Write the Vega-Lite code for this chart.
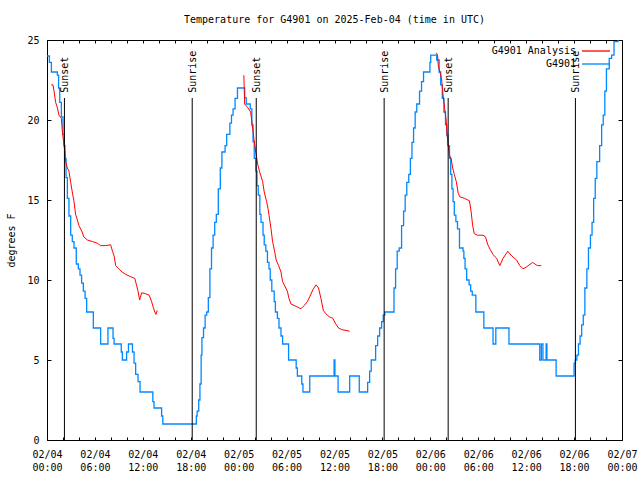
{
  "$schema": "https://vega.github.io/schema/vega-lite/v6.json",
  "autosize": {"type": "none"},
  "padding": {"left": 47, "top": 40, "right": 18, "bottom": 40},
  "width": 575,
  "height": 400,
  "title": {"text": "Temperature for G4901 on 2025-Feb-04 (time in UTC)", "offset": 10, "font": "DejaVu Sans Mono", "fontSize": 10, "fontWeight": "normal", "color": "black"},
  "config": {
    "font": "DejaVu Sans Mono",
    "view": {"stroke": "black", "strokeWidth": 1},
    "axis": {"labelFont": "DejaVu Sans Mono", "labelFontSize": 10, "labelColor": "black", "tickColor": "black", "grid": false, "domain": false, "titleFont": "DejaVu Sans Mono", "titleFontSize": 10, "titleFontWeight": "normal", "titleColor": "black"}
  },
  "datasets": {
    "obs": [
      {"t":"2025-02-04T00:00:00Z","v":24.0},{"t":"2025-02-04T00:18:00Z","v":23.6},{"t":"2025-02-04T00:33:00Z","v":23.0},{"t":"2025-02-04T01:18:00Z","v":22.8},
      {"t":"2025-02-04T01:27:00Z","v":22.0},{"t":"2025-02-04T01:36:00Z","v":21.1},{"t":"2025-02-04T01:48:00Z","v":20.2},{"t":"2025-02-04T02:00:00Z","v":19.1},
      {"t":"2025-02-04T02:08:00Z","v":18.4},{"t":"2025-02-04T02:15:00Z","v":17.6},{"t":"2025-02-04T02:23:00Z","v":16.4},{"t":"2025-02-04T02:33:00Z","v":15.1},
      {"t":"2025-02-04T02:45:00Z","v":14.0},{"t":"2025-02-04T02:58:00Z","v":12.8},{"t":"2025-02-04T03:10:00Z","v":12.4},{"t":"2025-02-04T03:23:00Z","v":12.0},
      {"t":"2025-02-04T03:40:00Z","v":11.0},{"t":"2025-02-04T03:55:00Z","v":10.7},{"t":"2025-02-04T04:08:00Z","v":10.3},{"t":"2025-02-04T04:20:00Z","v":9.8},
      {"t":"2025-02-04T04:33:00Z","v":9.3},{"t":"2025-02-04T04:46:00Z","v":8.85},{"t":"2025-02-04T04:58:00Z","v":8.0},{"t":"2025-02-04T05:48:00Z","v":7.0},
      {"t":"2025-02-04T06:43:00Z","v":6.0},{"t":"2025-02-04T07:38:00Z","v":7.0},{"t":"2025-02-04T08:16:00Z","v":6.35},{"t":"2025-02-04T08:24:00Z","v":6.0},
      {"t":"2025-02-04T09:18:00Z","v":5.5},{"t":"2025-02-04T09:26:00Z","v":5.0},{"t":"2025-02-04T09:58:00Z","v":5.5},{"t":"2025-02-04T10:12:00Z","v":6.0},
      {"t":"2025-02-04T10:42:00Z","v":5.5},{"t":"2025-02-04T10:54:00Z","v":4.8},{"t":"2025-02-04T11:06:00Z","v":4.1},{"t":"2025-02-04T11:24:00Z","v":3.65},
      {"t":"2025-02-04T11:39:00Z","v":3.0},{"t":"2025-02-04T13:15:00Z","v":2.4},{"t":"2025-02-04T13:24:00Z","v":2.0},{"t":"2025-02-04T14:21:00Z","v":1.5},
      {"t":"2025-02-04T14:30:00Z","v":1.0},{"t":"2025-02-04T18:42:00Z","v":1.5},{"t":"2025-02-04T18:48:00Z","v":1.8},{"t":"2025-02-04T19:00:00Z","v":2.5},
      {"t":"2025-02-04T19:09:00Z","v":3.5},{"t":"2025-02-04T19:18:00Z","v":5.3},{"t":"2025-02-04T19:24:00Z","v":6.4},{"t":"2025-02-04T19:36:00Z","v":7.0},
      {"t":"2025-02-04T19:48:00Z","v":7.8},{"t":"2025-02-04T20:00:00Z","v":8.0},{"t":"2025-02-04T20:12:00Z","v":8.9},{"t":"2025-02-04T20:24:00Z","v":10.7},
      {"t":"2025-02-04T20:36:00Z","v":12.0},{"t":"2025-02-04T20:48:00Z","v":12.8},{"t":"2025-02-04T21:00:00Z","v":13.6},{"t":"2025-02-04T21:12:00Z","v":14.1},
      {"t":"2025-02-04T21:27:00Z","v":15.7},{"t":"2025-02-04T21:42:00Z","v":17.0},{"t":"2025-02-04T21:54:00Z","v":18.0},{"t":"2025-02-04T22:18:00Z","v":18.4},
      {"t":"2025-02-04T22:30:00Z","v":19.1},{"t":"2025-02-04T22:54:00Z","v":19.8},{"t":"2025-02-04T23:06:00Z","v":20.3},{"t":"2025-02-04T23:18:00Z","v":20.7},
      {"t":"2025-02-04T23:33:00Z","v":21.35},{"t":"2025-02-04T23:51:00Z","v":22.0},{"t":"2025-02-05T00:45:00Z","v":21.4},{"t":"2025-02-05T00:57:00Z","v":21.0},
      {"t":"2025-02-05T01:27:00Z","v":20.7},{"t":"2025-02-05T01:39:00Z","v":19.7},{"t":"2025-02-05T01:48:00Z","v":18.65},{"t":"2025-02-05T01:57:00Z","v":17.6},
      {"t":"2025-02-05T02:09:00Z","v":16.8},{"t":"2025-02-05T02:18:00Z","v":15.9},{"t":"2025-02-05T02:27:00Z","v":15.3},{"t":"2025-02-05T02:39:00Z","v":14.1},
      {"t":"2025-02-05T02:48:00Z","v":13.6},{"t":"2025-02-05T03:03:00Z","v":12.8},{"t":"2025-02-05T03:12:00Z","v":12.2},{"t":"2025-02-05T03:24:00Z","v":11.8},
      {"t":"2025-02-05T03:36:00Z","v":11.1},{"t":"2025-02-05T03:48:00Z","v":10.7},{"t":"2025-02-05T03:57:00Z","v":10.0},{"t":"2025-02-05T04:09:00Z","v":9.3},
      {"t":"2025-02-05T04:27:00Z","v":8.65},{"t":"2025-02-05T04:36:00Z","v":8.0},{"t":"2025-02-05T04:51:00Z","v":7.6},{"t":"2025-02-05T05:03:00Z","v":7.0},
      {"t":"2025-02-05T05:18:00Z","v":6.5},{"t":"2025-02-05T05:30:00Z","v":6.0},{"t":"2025-02-05T06:15:00Z","v":5.0},{"t":"2025-02-05T07:12:00Z","v":4.5},
      {"t":"2025-02-05T07:21:00Z","v":4.0},{"t":"2025-02-05T07:54:00Z","v":3.5},{"t":"2025-02-05T08:03:00Z","v":3.0},{"t":"2025-02-05T08:54:00Z","v":4.0},
      {"t":"2025-02-05T11:57:00Z","v":5.0},{"t":"2025-02-05T12:03:00Z","v":4.0},{"t":"2025-02-05T12:27:00Z","v":3.0},{"t":"2025-02-05T13:54:00Z","v":4.0},
      {"t":"2025-02-05T15:06:00Z","v":3.0},{"t":"2025-02-05T16:09:00Z","v":3.6},{"t":"2025-02-05T16:24:00Z","v":4.3},{"t":"2025-02-05T16:36:00Z","v":5.0},
      {"t":"2025-02-05T17:09:00Z","v":5.9},{"t":"2025-02-05T17:24:00Z","v":6.5},{"t":"2025-02-05T17:39:00Z","v":7.0},{"t":"2025-02-05T17:54:00Z","v":7.4},
      {"t":"2025-02-05T18:06:00Z","v":7.8},{"t":"2025-02-05T18:18:00Z","v":8.0},{"t":"2025-02-05T19:27:00Z","v":9.5},{"t":"2025-02-05T19:39:00Z","v":10.7},
      {"t":"2025-02-05T19:51:00Z","v":11.8},{"t":"2025-02-05T20:06:00Z","v":12.0},{"t":"2025-02-05T20:24:00Z","v":13.4},{"t":"2025-02-05T20:39:00Z","v":14.3},
      {"t":"2025-02-05T20:51:00Z","v":15.3},{"t":"2025-02-05T21:03:00Z","v":16.1},{"t":"2025-02-05T21:18:00Z","v":16.6},{"t":"2025-02-05T21:30:00Z","v":17.6},
      {"t":"2025-02-05T21:42:00Z","v":18.6},{"t":"2025-02-05T21:54:00Z","v":19.5},{"t":"2025-02-05T22:06:00Z","v":20.5},{"t":"2025-02-05T22:18:00Z","v":21.0},
      {"t":"2025-02-05T22:39:00Z","v":21.8},{"t":"2025-02-05T22:54:00Z","v":22.4},{"t":"2025-02-05T23:09:00Z","v":23.0},{"t":"2025-02-05T23:57:00Z","v":23.6},
      {"t":"2025-02-06T00:03:00Z","v":24.06},{"t":"2025-02-06T00:48:00Z","v":23.75},{"t":"2025-02-06T01:06:00Z","v":23.0},{"t":"2025-02-06T01:18:00Z","v":22.2},
      {"t":"2025-02-06T01:30:00Z","v":21.35},{"t":"2025-02-06T01:42:00Z","v":20.5},{"t":"2025-02-06T01:54:00Z","v":19.7},{"t":"2025-02-06T02:03:00Z","v":19.06},
      {"t":"2025-02-06T02:12:00Z","v":18.4},{"t":"2025-02-06T02:24:00Z","v":17.6},{"t":"2025-02-06T02:33:00Z","v":16.6},{"t":"2025-02-06T02:42:00Z","v":15.7},
      {"t":"2025-02-06T02:51:00Z","v":14.9},{"t":"2025-02-06T03:00:00Z","v":14.06},{"t":"2025-02-06T03:12:00Z","v":13.65},{"t":"2025-02-06T03:24:00Z","v":13.2},
      {"t":"2025-02-06T03:39:00Z","v":12.0},{"t":"2025-02-06T04:06:00Z","v":11.8},{"t":"2025-02-06T04:12:00Z","v":11.35},{"t":"2025-02-06T04:21:00Z","v":10.7},
      {"t":"2025-02-06T04:33:00Z","v":10.0},{"t":"2025-02-06T04:51:00Z","v":9.7},{"t":"2025-02-06T05:03:00Z","v":9.3},{"t":"2025-02-06T05:15:00Z","v":9.06},
      {"t":"2025-02-06T05:42:00Z","v":8.0},{"t":"2025-02-06T06:42:00Z","v":7.0},{"t":"2025-02-06T07:51:00Z","v":6.0},{"t":"2025-02-06T08:12:00Z","v":7.0},
      {"t":"2025-02-06T09:51:00Z","v":6.0},{"t":"2025-02-06T13:42:00Z","v":5.0},{"t":"2025-02-06T13:54:00Z","v":6.0},{"t":"2025-02-06T14:06:00Z","v":5.0},
      {"t":"2025-02-06T14:30:00Z","v":6.0},{"t":"2025-02-06T14:36:00Z","v":5.0},{"t":"2025-02-06T15:45:00Z","v":4.0},{"t":"2025-02-06T18:00:00Z","v":4.8},
      {"t":"2025-02-06T18:09:00Z","v":5.0},{"t":"2025-02-06T18:21:00Z","v":5.3},{"t":"2025-02-06T18:33:00Z","v":6.0},{"t":"2025-02-06T18:45:00Z","v":6.5},
      {"t":"2025-02-06T18:57:00Z","v":7.2},{"t":"2025-02-06T19:09:00Z","v":7.8},{"t":"2025-02-06T19:21:00Z","v":9.5},{"t":"2025-02-06T19:36:00Z","v":10.7},
      {"t":"2025-02-06T19:48:00Z","v":12.0},{"t":"2025-02-06T20:03:00Z","v":12.8},{"t":"2025-02-06T20:15:00Z","v":13.6},{"t":"2025-02-06T20:27:00Z","v":15.1},
      {"t":"2025-02-06T20:39:00Z","v":16.35},{"t":"2025-02-06T20:51:00Z","v":17.4},{"t":"2025-02-06T21:12:00Z","v":18.4},{"t":"2025-02-06T21:27:00Z","v":19.7},
      {"t":"2025-02-06T21:39:00Z","v":20.3},{"t":"2025-02-06T21:51:00Z","v":21.8},{"t":"2025-02-06T22:03:00Z","v":23.2},{"t":"2025-02-06T22:24:00Z","v":23.85},
      {"t":"2025-02-06T22:42:00Z","v":24.06},{"t":"2025-02-06T23:00:00Z","v":24.9},{"t":"2025-02-06T23:30:00Z","v":25.0}
    ],
    "ana": [
      {"t":"2025-02-04T00:32:00Z","v":22.2,"s":1},{"t":"2025-02-04T00:45:00Z","v":22.2,"s":1},{"t":"2025-02-04T00:53:00Z","v":21.8,"s":1},{"t":"2025-02-04T01:05:00Z","v":21.1,"s":1},
      {"t":"2025-02-04T01:17:00Z","v":20.8,"s":1},{"t":"2025-02-04T01:30:00Z","v":20.3,"s":1},{"t":"2025-02-04T01:48:00Z","v":20.1,"s":1},{"t":"2025-02-04T01:55:00Z","v":19.3,"s":1},
      {"t":"2025-02-04T02:08:00Z","v":18.4,"s":1},{"t":"2025-02-04T02:15:00Z","v":18.0,"s":1},{"t":"2025-02-04T02:20:00Z","v":17.4,"s":1},{"t":"2025-02-04T02:33:00Z","v":17.0,"s":1},
      {"t":"2025-02-04T02:45:00Z","v":16.8,"s":1},{"t":"2025-02-04T02:58:00Z","v":16.1,"s":1},{"t":"2025-02-04T03:10:00Z","v":15.5,"s":1},{"t":"2025-02-04T03:23:00Z","v":14.9,"s":1},
      {"t":"2025-02-04T03:35:00Z","v":14.1,"s":1},{"t":"2025-02-04T03:48:00Z","v":13.75,"s":1},{"t":"2025-02-04T04:00:00Z","v":13.4,"s":1},{"t":"2025-02-04T04:24:00Z","v":13.0,"s":1},
      {"t":"2025-02-04T04:36:00Z","v":12.7,"s":1},{"t":"2025-02-04T05:03:00Z","v":12.5,"s":1},{"t":"2025-02-04T05:42:00Z","v":12.4,"s":1},{"t":"2025-02-04T06:18:00Z","v":12.3,"s":1},
      {"t":"2025-02-04T06:42:00Z","v":12.15,"s":1},{"t":"2025-02-04T07:21:00Z","v":12.15,"s":1},{"t":"2025-02-04T07:58:00Z","v":12.2,"s":1},{"t":"2025-02-04T08:12:00Z","v":11.8,"s":1},
      {"t":"2025-02-04T08:24:00Z","v":11.5,"s":1},{"t":"2025-02-04T08:36:00Z","v":10.9,"s":1},{"t":"2025-02-04T09:00:00Z","v":10.7,"s":1},{"t":"2025-02-04T09:24:00Z","v":10.5,"s":1},
      {"t":"2025-02-04T09:51:00Z","v":10.35,"s":1},{"t":"2025-02-04T10:30:00Z","v":10.2,"s":1},{"t":"2025-02-04T11:00:00Z","v":10.1,"s":1},{"t":"2025-02-04T11:12:00Z","v":9.7,"s":1},
      {"t":"2025-02-04T11:24:00Z","v":9.3,"s":1},{"t":"2025-02-04T11:36:00Z","v":8.75,"s":1},{"t":"2025-02-04T11:51:00Z","v":9.2,"s":1},{"t":"2025-02-04T12:18:00Z","v":9.15,"s":1},
      {"t":"2025-02-04T12:48:00Z","v":9.05,"s":1},{"t":"2025-02-04T13:06:00Z","v":8.65,"s":1},{"t":"2025-02-04T13:18:00Z","v":8.3,"s":1},{"t":"2025-02-04T13:30:00Z","v":8.0,"s":1},
      {"t":"2025-02-04T13:39:00Z","v":7.85,"s":1},{"t":"2025-02-04T13:48:00Z","v":8.1,"s":1},
      {"t":"2025-02-05T00:39:00Z","v":22.8,"s":2},{"t":"2025-02-05T00:45:00Z","v":21.0,"s":2},{"t":"2025-02-05T01:06:00Z","v":20.8,"s":2},{"t":"2025-02-05T01:30:00Z","v":20.5,"s":2},
      {"t":"2025-02-05T01:42:00Z","v":19.7,"s":2},{"t":"2025-02-05T01:57:00Z","v":18.65,"s":2},{"t":"2025-02-05T02:12:00Z","v":17.8,"s":2},{"t":"2025-02-05T02:24:00Z","v":17.2,"s":2},
      {"t":"2025-02-05T02:36:00Z","v":16.8,"s":2},{"t":"2025-02-05T03:00:00Z","v":16.15,"s":2},{"t":"2025-02-05T03:12:00Z","v":15.5,"s":2},{"t":"2025-02-05T03:30:00Z","v":14.9,"s":2},
      {"t":"2025-02-05T03:42:00Z","v":14.4,"s":2},{"t":"2025-02-05T03:48:00Z","v":14.05,"s":2},{"t":"2025-02-05T04:03:00Z","v":13.2,"s":2},{"t":"2025-02-05T04:15:00Z","v":12.4,"s":2},
      {"t":"2025-02-05T04:30:00Z","v":11.8,"s":2},{"t":"2025-02-05T04:42:00Z","v":11.25,"s":2},{"t":"2025-02-05T05:00:00Z","v":10.9,"s":2},{"t":"2025-02-05T05:18:00Z","v":10.5,"s":2},
      {"t":"2025-02-05T05:30:00Z","v":9.9,"s":2},{"t":"2025-02-05T05:42:00Z","v":9.7,"s":2},{"t":"2025-02-05T06:06:00Z","v":9.3,"s":2},{"t":"2025-02-05T06:18:00Z","v":8.85,"s":2},
      {"t":"2025-02-05T06:33:00Z","v":8.5,"s":2},{"t":"2025-02-05T07:12:00Z","v":8.35,"s":2},{"t":"2025-02-05T07:48:00Z","v":8.2,"s":2},{"t":"2025-02-05T08:12:00Z","v":8.4,"s":2},
      {"t":"2025-02-05T08:36:00Z","v":8.65,"s":2},{"t":"2025-02-05T08:54:00Z","v":8.95,"s":2},{"t":"2025-02-05T09:18:00Z","v":9.4,"s":2},{"t":"2025-02-05T09:42:00Z","v":9.7,"s":2},
      {"t":"2025-02-05T10:00:00Z","v":9.5,"s":2},{"t":"2025-02-05T10:18:00Z","v":8.85,"s":2},{"t":"2025-02-05T10:36:00Z","v":8.1,"s":2},{"t":"2025-02-05T10:54:00Z","v":7.9,"s":2},
      {"t":"2025-02-05T11:21:00Z","v":7.7,"s":2},{"t":"2025-02-05T11:48:00Z","v":7.6,"s":2},{"t":"2025-02-05T12:06:00Z","v":7.3,"s":2},{"t":"2025-02-05T12:30:00Z","v":7.0,"s":2},
      {"t":"2025-02-05T12:54:00Z","v":6.9,"s":2},{"t":"2025-02-05T13:54:00Z","v":6.8,"s":2},
      {"t":"2025-02-06T00:45:00Z","v":24.2,"s":3},{"t":"2025-02-06T00:54:00Z","v":24.05,"s":3},{"t":"2025-02-06T01:00:00Z","v":23.4,"s":3},{"t":"2025-02-06T01:12:00Z","v":23.0,"s":3},
      {"t":"2025-02-06T01:24:00Z","v":22.6,"s":3},{"t":"2025-02-06T01:36:00Z","v":21.55,"s":3},{"t":"2025-02-06T01:48:00Z","v":20.7,"s":3},{"t":"2025-02-06T02:00:00Z","v":19.9,"s":3},
      {"t":"2025-02-06T02:06:00Z","v":19.05,"s":3},{"t":"2025-02-06T02:18:00Z","v":18.2,"s":3},{"t":"2025-02-06T02:24:00Z","v":17.8,"s":3},{"t":"2025-02-06T02:36:00Z","v":17.6,"s":3},
      {"t":"2025-02-06T02:48:00Z","v":17.0,"s":3},{"t":"2025-02-06T03:00:00Z","v":16.6,"s":3},{"t":"2025-02-06T03:15:00Z","v":16.15,"s":3},{"t":"2025-02-06T03:30:00Z","v":15.4,"s":3},
      {"t":"2025-02-06T03:42:00Z","v":15.2,"s":3},{"t":"2025-02-06T04:18:00Z","v":15.1,"s":3},{"t":"2025-02-06T04:54:00Z","v":14.95,"s":3},{"t":"2025-02-06T05:06:00Z","v":14.3,"s":3},
      {"t":"2025-02-06T05:18:00Z","v":13.4,"s":3},{"t":"2025-02-06T05:30:00Z","v":12.9,"s":3},{"t":"2025-02-06T05:54:00Z","v":12.8,"s":3},{"t":"2025-02-06T06:36:00Z","v":12.8,"s":3},
      {"t":"2025-02-06T06:54:00Z","v":12.7,"s":3},{"t":"2025-02-06T07:12:00Z","v":12.2,"s":3},{"t":"2025-02-06T07:30:00Z","v":11.9,"s":3},{"t":"2025-02-06T07:51:00Z","v":11.6,"s":3},
      {"t":"2025-02-06T08:18:00Z","v":11.35,"s":3},{"t":"2025-02-06T08:42:00Z","v":10.9,"s":3},{"t":"2025-02-06T09:06:00Z","v":11.35,"s":3},{"t":"2025-02-06T09:42:00Z","v":11.8,"s":3},
      {"t":"2025-02-06T10:12:00Z","v":11.5,"s":3},{"t":"2025-02-06T10:48:00Z","v":11.25,"s":3},{"t":"2025-02-06T11:12:00Z","v":10.9,"s":3},{"t":"2025-02-06T11:36:00Z","v":10.7,"s":3},
      {"t":"2025-02-06T12:00:00Z","v":10.8,"s":3},{"t":"2025-02-06T12:48:00Z","v":11.1,"s":3},{"t":"2025-02-06T13:24:00Z","v":10.9,"s":3},{"t":"2025-02-06T13:54:00Z","v":10.9,"s":3}
    ],
    "sun": [
      {"t":"2025-02-04T02:11:00Z","label":"Sunset"},{"t":"2025-02-04T18:11:00Z","label":"Sunrise"},
      {"t":"2025-02-05T02:12:00Z","label":"Sunset"},{"t":"2025-02-05T18:13:00Z","label":"Sunrise"},
      {"t":"2025-02-06T02:14:00Z","label":"Sunset"},{"t":"2025-02-06T18:10:00Z","label":"Sunrise"}
    ]
  },
  "resolve": {"axis": {"x": "independent", "y": "independent"}},
  "layer": [
    {
      "data": {"name": "obs"},
      "mark": {"type": "line", "interpolate": "step-after", "strokeWidth": 1.3, "clip": true},
      "encoding": {
        "x": {"field": "t", "type": "temporal", "title": null,
          "scale": {"type": "utc", "domain": [1738627200000, 1738886400000]},
          "axis": {"orient": "bottom", "tickSize": -3, "labelPadding": 12, "labelLineHeight": 13, "labelFlush": false, "labelOverlap": false,
            "values": [1738627200000, 1738634400000, 1738641600000, 1738648800000, 1738656000000, 1738663200000, 1738670400000, 1738677600000, 1738684800000, 1738692000000, 1738699200000, 1738706400000, 1738713600000, 1738720800000, 1738728000000, 1738735200000, 1738742400000, 1738749600000, 1738756800000, 1738764000000, 1738771200000, 1738778400000, 1738785600000, 1738792800000, 1738800000000, 1738807200000, 1738814400000, 1738821600000, 1738828800000, 1738836000000, 1738843200000, 1738850400000, 1738857600000, 1738864800000, 1738872000000, 1738879200000, 1738886400000],
            "labelExpr": "utchours(datum.value) % 6 == 0 ? [utcFormat(datum.value, '%m/%d'), utcFormat(datum.value, '%H:%M')] : ''"}},
        "y": {"field": "v", "type": "quantitative", "title": "degrees F", "scale": {"domain": [0, 25], "nice": false, "zero": false},
          "axis": {"orient": "left", "values": [0, 5, 10, 15, 20, 25], "tickSize": -4, "labelPadding": 12, "titlePadding": 10}},
        "color": {"datum": "G4901", "type": "nominal",
          "scale": {"domain": ["G4901 Analysis", "G4901"], "range": ["#ff0000", "#0088ff"]},
          "legend": {"title": null, "orient": "none", "legendX": 541, "legendY": 3, "symbolType": "M-2,0H2", "symbolSize": 196, "symbolStrokeWidth": 1.3,
            "labelAlign": "right", "labelOffset": -28, "labelFont": "DejaVu Sans Mono", "labelFontSize": 10, "labelColor": "black", "rowPadding": 0}}
      }
    },
    {
      "data": {"name": "ana"},
      "mark": {"type": "line", "strokeWidth": 1},
      "encoding": {
        "x": {"field": "t", "type": "temporal", "title": null, "axis": null},
        "y": {"field": "v", "type": "quantitative", "title": null,
          "axis": {"orient": "right", "values": [0, 5, 10, 15, 20, 25], "tickSize": -4, "labels": false}},
        "detail": {"field": "s", "type": "nominal"},
        "color": {"datum": "G4901 Analysis", "type": "nominal"}
      }
    },
    {
      "data": {"name": "sun"},
      "mark": {"type": "rule", "color": "black", "strokeWidth": 1},
      "encoding": {
        "x": {"field": "t", "type": "temporal", "title": null,
          "axis": {"orient": "top", "tickSize": -3, "labels": false,
            "values": [1738627200000, 1738634400000, 1738641600000, 1738648800000, 1738656000000, 1738663200000, 1738670400000, 1738677600000, 1738684800000, 1738692000000, 1738699200000, 1738706400000, 1738713600000, 1738720800000, 1738728000000, 1738735200000, 1738742400000, 1738749600000, 1738756800000, 1738764000000, 1738771200000, 1738778400000, 1738785600000, 1738792800000, 1738800000000, 1738807200000, 1738814400000, 1738821600000, 1738828800000, 1738836000000, 1738843200000, 1738850400000, 1738857600000, 1738864800000, 1738872000000, 1738879200000, 1738886400000]}},
        "y": {"datum": 0, "type": "quantitative", "axis": null},
        "y2": {"datum": 21.375}
      }
    },
    {
      "data": {"name": "sun"},
      "mark": {"type": "text", "angle": -90, "align": "left", "baseline": "middle", "font": "DejaVu Sans Mono", "fontSize": 10, "color": "black", "dy": 1},
      "encoding": {
        "x": {"field": "t", "type": "temporal", "title": null, "axis": null},
        "y": {"datum": 21.7, "type": "quantitative", "axis": null},
        "text": {"field": "label"}
      }
    }
  ]
}
